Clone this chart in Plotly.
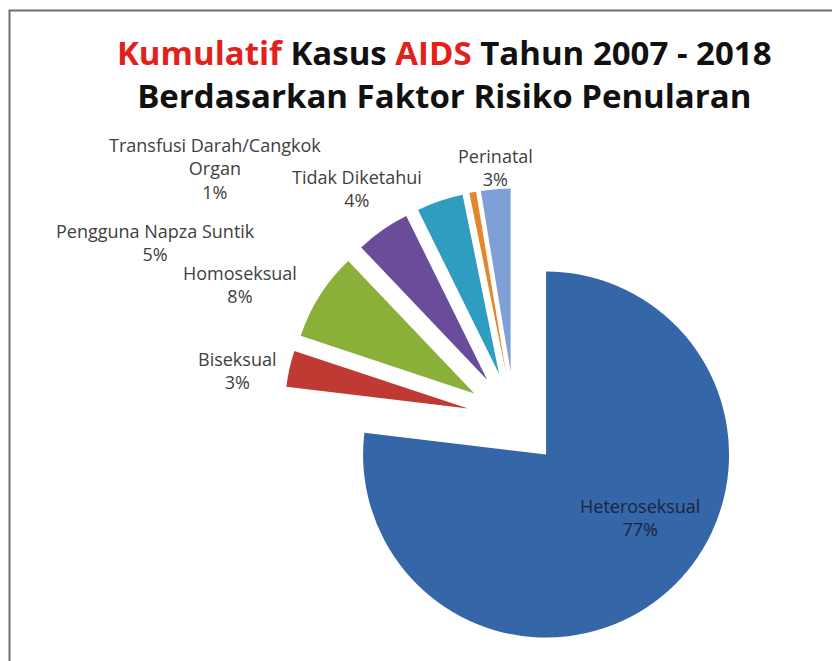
import plotly.graph_objects as go

labels = ["Heteroseksual", "Biseksual", "Homoseksual", "Pengguna Napza Suntik",
          "Tidak Diketahui", "Transfusi Darah/Cangkok<br>Organ", "Perinatal"]
values = [76.9, 3.2, 7.8, 4.8, 4.1, 0.6, 2.6]
colors = ["#3566A8", "#BE3A33", "#8BB03A", "#6B4C9A", "#2E9DBF", "#E4862D", "#7FA0D6"]

# pixel centres of the data labels (layout only)
label_pos = [(640, 517), (237, 370), (240, 284), (155, 242), (357, 188), (215, 168), (495, 167)]
label_col = ["#1B2540", "#404040", "#404040", "#404040", "#404040", "#404040", "#404040"]

W, H = 832, 661
cx, cy, R, pull = 514.5, 419.0, 183.0, 0.26
half = R * (1 + pull)
box_w = 480

total = sum(values)
pct = [round(v / total * 100) for v in values]

fig = go.Figure(go.Pie(
    labels=labels,
    values=values,
    sort=False,
    direction="clockwise",
    rotation=0,
    pull=[pull] * len(values),
    marker=dict(colors=colors, line=dict(width=0)),
    textinfo="none",
    showlegend=False,
    hoverinfo="label+percent",
    domain=dict(x=[(cx - box_w / 2) / W, (cx + box_w / 2) / W],
                y=[1 - (cy + half) / H, 1 - (cy - half) / H]),
))

annotations = []
for lab, p, pos, col in zip(labels, pct, label_pos, label_col):
    annotations.append(dict(
        text=f"{lab}<br>{p}%", x=pos[0] / W, y=1 - pos[1] / H,
        xref="paper", yref="paper", xanchor="center", yanchor="middle",
        showarrow=False, align="center",
        font=dict(family="Open Sans", size=18, color=col),
    ))

fig.update_layout(
    width=W, height=H,
    margin=dict(l=0, r=0, t=0, b=0, autoexpand=False),
    paper_bgcolor="white",
    title=dict(
        text="<span style='color:#E3211C'>Kumulatif</span> Kasus "
             "<span style='color:#E3211C'>AIDS</span> Tahun 2007 - 2018<br>"
             "Berdasarkan Faktor Risiko Penularan",
        x=0.534, xanchor="center", xref="container",
        y=0.902, yanchor="top", yref="container",
        font=dict(family="Open Sans", size=33, color="#111111", weight="bold"),
    ),
    annotations=annotations,
    shapes=[dict(type="rect", xref="paper", yref="paper",
                 x0=9.5 / W, x1=1.02, y0=-0.02, y1=1 - 10.5 / H,
                 line=dict(color="#6E6E6E", width=2))],
)

fig.write_html("out.html", config={"displayModeBar": False},
               post_script="document.body.style.margin='0px';")
